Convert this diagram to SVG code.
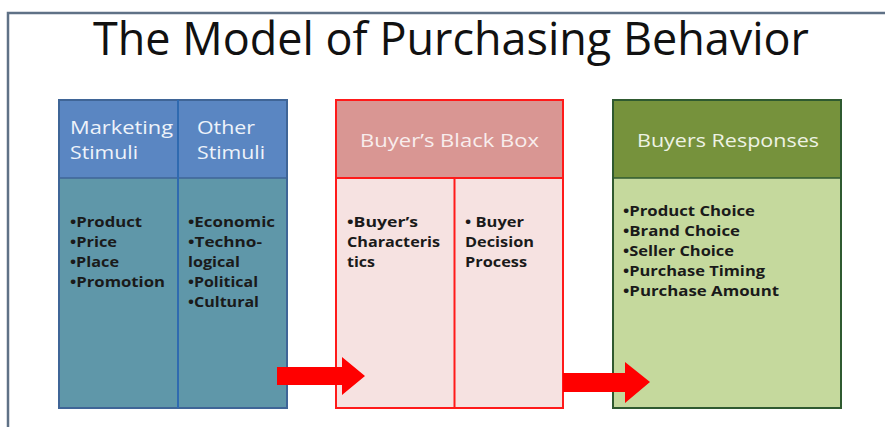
<svg xmlns="http://www.w3.org/2000/svg" width="885" height="427" viewBox="0 0 885 427">
  <style>
    .title { font-family: "Open Sans", "Liberation Sans", Arial, sans-serif; font-size: 45px; fill: #111; }
    .head { font-family: "Open Sans", "Liberation Sans", Arial, sans-serif; font-size: 18px; }
    .item { font-family: "Open Sans", "Liberation Sans", Arial, sans-serif; font-size: 14px; font-weight: bold; fill: #1a1a1a; }
    .arrow { fill: #FF0000; }
  </style>
  <rect width="885" height="427" fill="#ffffff"/>
  <!-- slide frame -->
  <path d="M8 427 V13 H885" fill="none" stroke="#5F7186" stroke-width="2.5"/>

  <text class="title" x="451" y="55" text-anchor="middle" textLength="716" lengthAdjust="spacingAndGlyphs">The Model of Purchasing Behavior</text>

  <!-- stimuli -->
  <g id="stimuli">
    <rect x="59" y="100" width="228" height="78" fill="#5A86C2"/>
    <rect x="59" y="178" width="228" height="230" fill="#5F97A9"/>
    <rect x="59" y="100" width="228" height="308" fill="none" stroke="#3F6597" stroke-width="2"/>
    <line x1="59" y1="178" x2="287" y2="178" stroke="#3F6597" stroke-width="1.5"/>
    <line x1="178" y1="100" x2="178" y2="408" stroke="#2F6AB0" stroke-width="2"/>
    <text class="head" fill="#EEF3FA" x="70" y="134" textLength="103" lengthAdjust="spacingAndGlyphs">Marketing</text>
    <text class="head" fill="#EEF3FA" x="70" y="159" textLength="68" lengthAdjust="spacingAndGlyphs">Stimuli</text>
    <text class="head" fill="#EEF3FA" x="197" y="134" textLength="58" lengthAdjust="spacingAndGlyphs">Other</text>
    <text class="head" fill="#EEF3FA" x="197" y="159" textLength="68" lengthAdjust="spacingAndGlyphs">Stimuli</text>
    <text class="item" x="70" y="227" textLength="72" lengthAdjust="spacingAndGlyphs">•Product</text>
    <text class="item" x="70" y="247" textLength="47" lengthAdjust="spacingAndGlyphs">•Price</text>
    <text class="item" x="70" y="267" textLength="49" lengthAdjust="spacingAndGlyphs">•Place</text>
    <text class="item" x="70" y="287" textLength="95" lengthAdjust="spacingAndGlyphs">•Promotion</text>
    <text class="item" x="188" y="227" textLength="87" lengthAdjust="spacingAndGlyphs">•Economic</text>
    <text class="item" x="188" y="247" textLength="74" lengthAdjust="spacingAndGlyphs">•Techno-</text>
    <text class="item" x="188" y="267" textLength="52" lengthAdjust="spacingAndGlyphs">logical</text>
    <text class="item" x="188" y="287" textLength="70" lengthAdjust="spacingAndGlyphs">•Political</text>
    <text class="item" x="188" y="307" textLength="71" lengthAdjust="spacingAndGlyphs">•Cultural</text>
  </g>

  <!-- black box -->
  <g id="black-box">
    <rect x="336" y="100" width="227" height="78" fill="#D99693"/>
    <rect x="336" y="178" width="227" height="230" fill="#F6E2E1"/>
    <rect x="336" y="100" width="227" height="308" fill="none" stroke="#FF1A1A" stroke-width="2"/>
    <line x1="336" y1="178" x2="563" y2="178" stroke="#FF1A1A" stroke-width="2"/>
    <line x1="454.5" y1="178" x2="454.5" y2="408" stroke="#FF1A1A" stroke-width="2"/>
    <text class="head" fill="#F8EDED" x="360" y="147" textLength="179" lengthAdjust="spacingAndGlyphs">Buyer’s Black Box</text>
    <text class="item" x="347" y="227" textLength="71" lengthAdjust="spacingAndGlyphs">•Buyer’s</text>
    <text class="item" x="347" y="247" textLength="93" lengthAdjust="spacingAndGlyphs">Characteris</text>
    <text class="item" x="347" y="267" textLength="28" lengthAdjust="spacingAndGlyphs">tics</text>
    <text class="item" x="465" y="227" textLength="59" lengthAdjust="spacingAndGlyphs">• Buyer</text>
    <text class="item" x="465" y="247" textLength="69" lengthAdjust="spacingAndGlyphs">Decision</text>
    <text class="item" x="465" y="267" textLength="62" lengthAdjust="spacingAndGlyphs">Process</text>
  </g>

  <!-- responses -->
  <g id="responses">
    <rect x="613" y="100" width="228" height="78" fill="#76923C"/>
    <rect x="613" y="178" width="228" height="230" fill="#C5D99D"/>
    <rect x="613" y="100" width="228" height="308" fill="none" stroke="#2F5A30" stroke-width="2"/>
    <line x1="613" y1="178" x2="841" y2="178" stroke="#2F5A30" stroke-width="1.5"/>
    <text class="head" fill="#EEF3E4" x="637" y="147" textLength="182" lengthAdjust="spacingAndGlyphs">Buyers Responses</text>
    <text class="item" x="623" y="216" textLength="132" lengthAdjust="spacingAndGlyphs">•Product Choice</text>
    <text class="item" x="623" y="236" textLength="117" lengthAdjust="spacingAndGlyphs">•Brand Choice</text>
    <text class="item" x="623" y="256" textLength="111" lengthAdjust="spacingAndGlyphs">•Seller Choice</text>
    <text class="item" x="623" y="276" textLength="142" lengthAdjust="spacingAndGlyphs">•Purchase Timing</text>
    <text class="item" x="623" y="296" textLength="156" lengthAdjust="spacingAndGlyphs">•Purchase Amount</text>
  </g>

  <g id="connectors">
    <polygon class="arrow" points="277,367 342,367 342,357 365,376 342,395 342,385 277,385"/>
    <polygon class="arrow" points="563,373 625,373 625,362 650,382 625,403 625,392 563,392"/>
  </g>
</svg>
